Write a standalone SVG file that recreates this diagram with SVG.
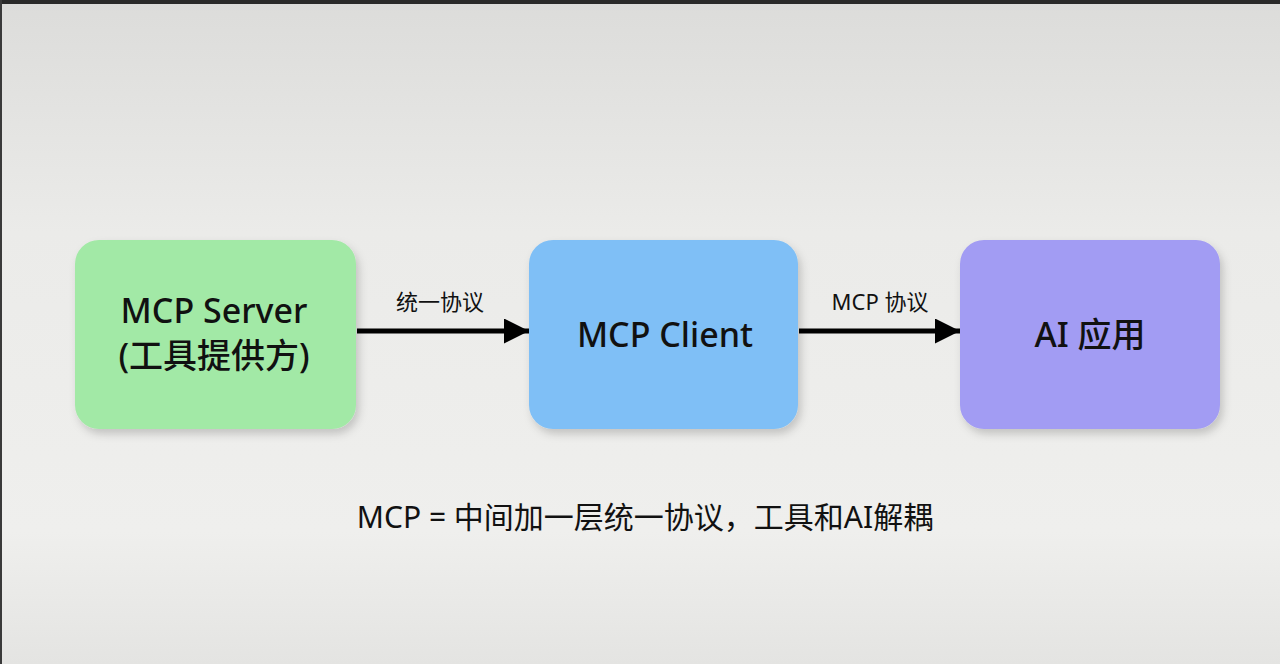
<svg xmlns="http://www.w3.org/2000/svg" width="1280" height="664" viewBox="0 0 1280 664">
<defs>
<linearGradient id="bg" x1="0" y1="0" x2="0" y2="1">
<stop offset="0" stop-color="#dcdcda"/>
<stop offset="0.35" stop-color="#ebebe9"/>
<stop offset="0.8" stop-color="#efefed"/>
<stop offset="1" stop-color="#e4e4e2"/>
</linearGradient>
<filter id="sh" x="-10%" y="-10%" width="125%" height="130%">
<feDropShadow dx="3" dy="5" stdDeviation="4" flood-color="#000" flood-opacity="0.18"/>
</filter>
<marker id="ah" viewBox="0 0 10 10" refX="10" refY="5" markerWidth="5" markerHeight="5" markerUnits="strokeWidth" orient="auto">
<path d="M0,0 L10,5 L0,10 z" fill="#000"/>
</marker>
<style>
text{font-family:"Noto Sans","Noto Sans CJK SC",sans-serif;fill:#111;text-anchor:middle}
.n{font-size:34px;font-weight:500}
.l{font-size:22px}
.c{stroke:#000;stroke-width:5;fill:none;marker-end:url(#ah)}
</style>
</defs>
<rect width="1280" height="664" fill="url(#bg)"/>
<rect width="1280" height="4" fill="#2a2a2a"/>
<rect width="2" height="664" fill="#3a3a3a"/>
<g id="connectors">
<line class="c" x1="357" y1="331" x2="529" y2="331"/>
<line class="c" x1="799" y1="331" x2="960" y2="331"/>
<text class="l" x="440" y="310">统一协议</text>
<text class="l" x="880" y="310">MCP 协议</text>
</g>
<g id="server">
<rect x="75" y="240" width="281" height="189" rx="24" fill="#a2e9a6" filter="url(#sh)"/>
<text class="n" x="214" y="323">MCP Server</text>
<text class="n" x="214" y="368">(工具提供方)</text>
</g>
<g id="client">
<rect x="529" y="240" width="269" height="189" rx="24" fill="#7fbff6" filter="url(#sh)"/>
<text class="n" x="665" y="347">MCP Client</text>
</g>
<g id="app">
<rect x="960" y="240" width="260" height="189" rx="24" fill="#a29cf3" filter="url(#sh)"/>
<text class="n" x="1090" y="347">AI 应用</text>
</g>
<text x="645" y="528" style="font-size:30px">MCP = 中间加一层统一协议，工具和AI解耦</text>
</svg>
